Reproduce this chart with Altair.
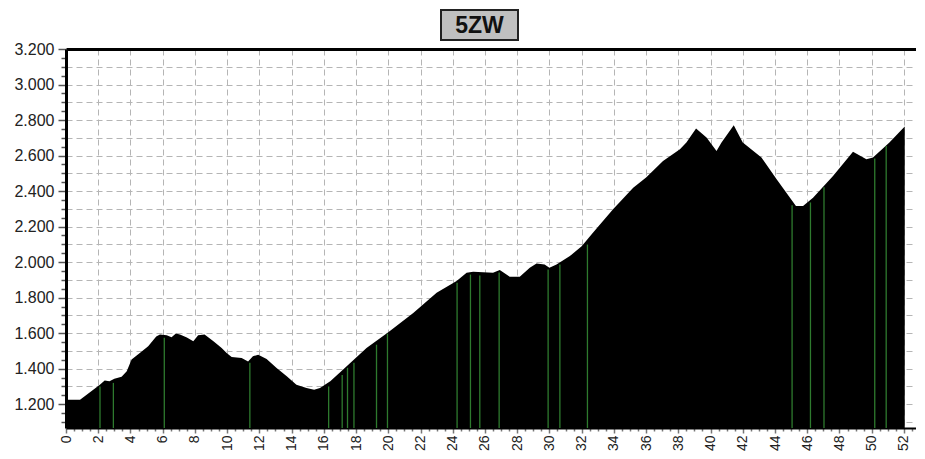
import altair as alt
import pandas as pd

TITLE = "5ZW"

# elevation profile: distance (km) and elevation (m)
KM = [0.0, 0.87, 1.2, 2.1, 2.4, 2.7, 3.0, 3.45, 3.77, 4.07, 4.6, 5.1, 5.6, 5.83,
      6.25, 6.55, 6.82, 7.07, 7.5, 7.9, 8.2, 8.6, 9.15, 9.66, 9.97, 10.28, 10.9,
      11.3, 11.6, 11.93, 12.45, 13.07, 13.7, 14.3, 14.93, 15.4, 15.76, 16.4, 17.2,
      18.65, 20.0, 21.55, 23.0, 24.24, 24.86, 25.27, 26.5, 26.92, 27.54, 28.16,
      28.78, 29.2, 29.7, 30.0, 30.44, 31.27, 32.0, 32.7, 33.95, 35.2, 36.0, 37.05,
      38.1, 38.5, 39.1, 39.75, 40.37, 40.68, 41.44, 42.0, 43.16, 44.1, 45.3, 45.74,
      46.36, 47.6, 48.84, 49.67, 50.08, 51.1, 52.05]
ELEV = [1225, 1225, 1248, 1310, 1333, 1329, 1344, 1355, 1385, 1451, 1490, 1526, 1581, 1592,
        1588, 1577, 1598, 1592, 1575, 1554, 1588, 1592, 1554, 1517, 1489, 1466, 1460,
        1441, 1470, 1479, 1455, 1404, 1357, 1310, 1291, 1282, 1291, 1329, 1395,
        1517, 1605, 1714, 1827, 1893, 1940, 1946, 1940, 1955, 1917, 1917,
        1968, 1992, 1987, 1968, 1987, 2034, 2090, 2166, 2297, 2419, 2476, 2569,
        2635, 2673, 2752, 2701, 2626, 2673, 2771, 2673, 2589, 2466, 2316, 2316,
        2363, 2485, 2622, 2579, 2589, 2673, 2763]

# green waypoint markers: distance (km) and top of marker (m)
MARK_KM = [2.11, 2.94, 6.10, 11.41, 16.3, 17.14, 17.47, 17.87, 19.27, 19.95, 24.27,
           25.1, 25.68, 26.88, 29.92, 30.65, 32.36, 45.06, 46.2, 47.04, 50.19, 50.9]
MARK_TOP = [1300, 1320, 1574, 1433, 1300, 1365, 1405, 1433, 1535, 1597, 1884,
            1930, 1924, 1941, 1958, 1986, 2099, 2320, 2336, 2421, 2584, 2654]

Y_MIN, Y_MAX = 1066, 3200
X_MIN, X_MAX = 0, 52.75
X_TICKS = [i * 0.5 for i in range(0, 106)]
Y_TICKS = list(range(1100, 3201, 50))

profile = pd.DataFrame({"km": KM, "elev": ELEV})
marks = pd.DataFrame({"km": MARK_KM, "top": MARK_TOP})
title_df = pd.DataFrame({"t": [TITLE]})

FONT = "Liberation Sans"
xscale = alt.Scale(domain=[X_MIN, X_MAX], nice=False, zero=False)
yscale = alt.Scale(domain=[Y_MIN, Y_MAX], nice=False, zero=False)

y_axis = alt.Axis(
    values=Y_TICKS, title=None,
    labelExpr="datum.value % 200 === 0 ? replace(format(datum.value, ','), ',', '.') : ''",
    labelFont=FONT, labelFontSize=16, labelColor="#222222", labelPadding=4,
    labelOverlap=False, labelFlush=False,
    tickSize=alt.condition("datum.value % 200 === 0", alt.value(8), alt.value(5)),
    tickColor="#555555", tickWidth=1.5,
    domain=True, domainColor="#000000", domainWidth=3,
    grid=True, gridColor="#b5b5b5", gridDash=[6, 4], gridWidth=1,
    gridOpacity=alt.condition("datum.value % 100 === 0", alt.value(1), alt.value(0)),
)

x_axis = alt.Axis(
    values=X_TICKS, title=None, orient="bottom",
    labelExpr="datum.value % 2 === 0 ? format(datum.value, 'd') : ''",
    labelFont=FONT, labelFontSize=14, labelColor="#222222",
    labelAngle=270, labelAlign="right", labelBaseline="middle", labelPadding=2,
    labelOverlap=False, labelFlush=False,
    tickSize=alt.condition("datum.value % 2 === 0", alt.value(5), alt.value(3)),
    tickColor="#777777", tickWidth=1.5,
    domain=True, domainColor="#000000", domainWidth=2,
    grid=True, gridColor="#b5b5b5", gridDash=[6, 4], gridWidth=1,
    gridOpacity=alt.condition("datum.value % 2 === 0", alt.value(1), alt.value(0)),
)

x_top_axis = alt.Axis(orient="top", title=None, labels=False, ticks=False, grid=False,
                      domain=True, domainColor="#000000", domainWidth=3)

area = alt.Chart(profile).mark_area(color="#000000", interpolate="linear").encode(
    x=alt.X("km:Q", scale=xscale, axis=x_axis),
    y=alt.Y("elev:Q", scale=yscale, axis=y_axis),
    y2=alt.datum(Y_MIN),
)

rules = alt.Chart(marks).mark_rule(color="#2e7a2e", strokeWidth=1.3).encode(
    x=alt.X("km:Q", scale=xscale, axis=x_top_axis),
    y=alt.Y("top:Q", scale=yscale, axis=y_axis),
    y2=alt.datum(Y_MIN),
)

box = alt.Chart(title_df).mark_rect(fill="#c0c0c0", stroke="#222222", strokeWidth=2).encode(
    x=alt.value(375), x2=alt.value(452), y=alt.value(-39), y2=alt.value(-9),
)

label = alt.Chart(title_df).mark_text(
    font=FONT, fontSize=23, fontWeight="bold", color="#111111",
    align="center", baseline="alphabetic",
).encode(x=alt.value(413.5), y=alt.value(-16), text="t:N")

chart = (
    alt.layer(area, rules, box, label)
    .resolve_axis(x="independent")
    .properties(
        width=850, height=379,
        autosize=alt.AutoSizeParams(type="none"),
        padding={"left": 58, "top": 41, "right": 0, "bottom": 23},
    )
    .configure_view(stroke=None)
)

chart.save("out.html", embed_options={"renderer": "svg", "actions": False})
